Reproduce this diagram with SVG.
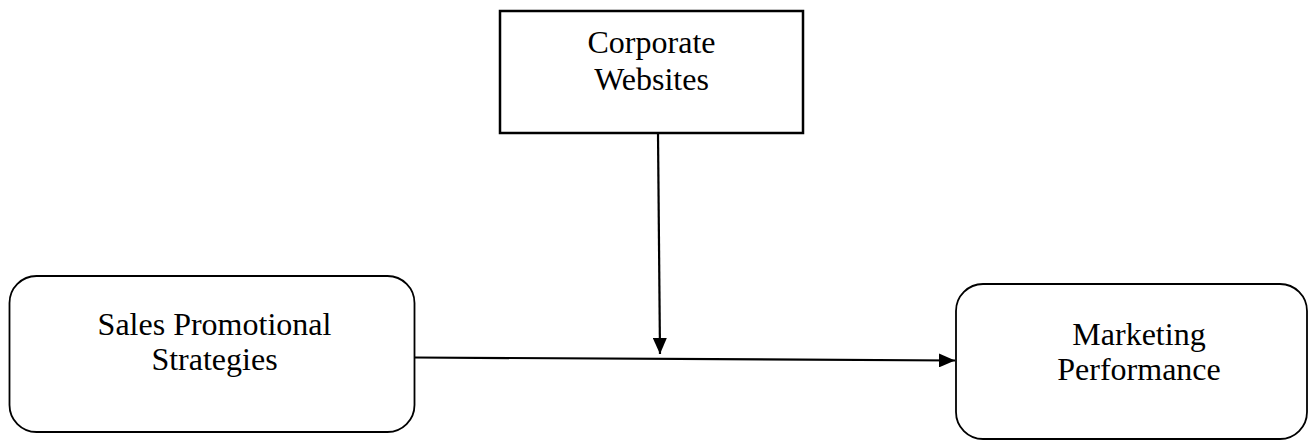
<svg xmlns="http://www.w3.org/2000/svg" width="1311" height="441" viewBox="0 0 1311 441">
<style>
text{font-family:"Liberation Serif","Times New Roman",serif;font-size:32px;fill:#000;text-anchor:middle}
.box{fill:#fff;stroke:#000;stroke-width:2.5}
.rbox{fill:#fff;stroke:#000;stroke-width:1.8}
.con{stroke:#000;stroke-width:2.2;fill:none}
</style>
<defs>
<marker id="ah" viewBox="0 0 16 14" refX="16" refY="7" markerWidth="16" markerHeight="14" markerUnits="userSpaceOnUse" orient="auto">
<path d="M0,0 L16,7 L0,14 Z" fill="#000"/>
</marker>
</defs>
<g id="corporate-websites">
<rect class="box" x="500" y="11" width="303" height="122"/>
<text x="651.5" y="53">Corporate</text>
<text x="651.5" y="90">Websites</text>
</g>
<g id="sales-promotional-strategies">
<rect class="rbox" x="9.5" y="276" width="405" height="156" rx="27"/>
<text x="214.5" y="335">Sales Promotional</text>
<text x="214.5" y="370">Strategies</text>
</g>
<g id="marketing-performance">
<rect class="rbox" x="956" y="284" width="351" height="155" rx="27"/>
<text x="1139" y="345">Marketing</text>
<text x="1139" y="380">Performance</text>
</g>
<g id="connectors">
<line class="con" x1="658" y1="134" x2="660" y2="354" marker-end="url(#ah)"/>
<line class="con" x1="415" y1="357.5" x2="955" y2="360.5" marker-end="url(#ah)"/>
</g>
</svg>
